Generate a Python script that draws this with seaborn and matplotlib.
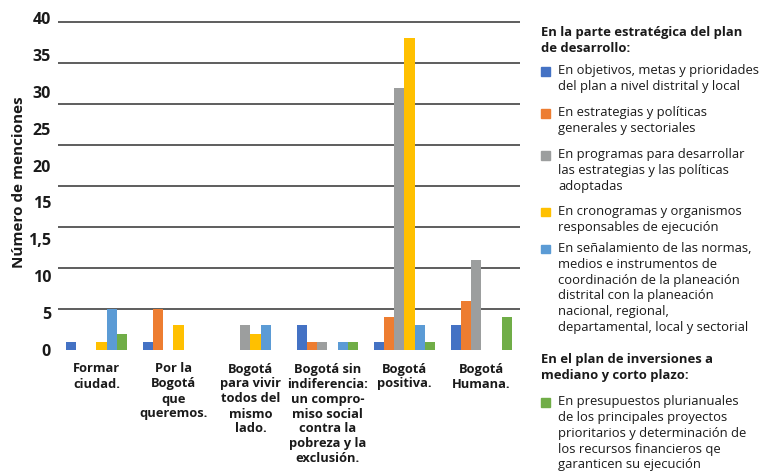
import matplotlib
matplotlib.use("Agg")
import matplotlib.pyplot as plt
import seaborn as sns
import pandas as pd
from matplotlib.patches import Rectangle
from matplotlib.ticker import FixedLocator, NullFormatter

# ---------------- data ----------------
categories = [
    "Formar\nciudad.",
    "Por la\nBogotá\nque\nqueremos.",
    "Bogotá\npara vivir\ntodos del\nmismo\nlado.",
    "Bogotá sin\nindiferencia:\nun compro-\nmiso social\ncontra la\npobreza y la\nexclusión.",
    "Bogotá\npositiva.",
    "Bogotá\nHumana.",
]
series_labels = [
    "En objetivos, metas y prioridades\ndel plan a nivel distrital y local",
    "En estrategias y políticas\ngenerales y sectoriales",
    "En programas para desarrollar\nlas estrategias y las políticas\nadoptadas",
    "En cronogramas y organismos\nresponsables de ejecución",
    "En señalamiento de las normas,\nmedios e instrumentos de\ncoordinación de la planeación\ndistrital con la planeación\nnacional, regional,\ndepartamental, local y sectorial",
    "En presupuestos plurianuales\nde los principales proyectos\nprioritarios y determinación de\nlos recursos financieros qe\ngaranticen su ejecución",
]
objetivos = [1, 1, 0, 3, 1, 3]
estrategias = [0, 5, 0, 1, 4, 6]
programas = [0, 0, 3, 1, 32, 11]
cronogramas = [1, 3, 2, 0, 38, 0]
normas = [5, 0, 3, 1, 3, 0]
presupuestos = [2, 0, 0, 1, 1, 4]
series_values = [objetivos, estrategias, programas, cronogramas, normas, presupuestos]

ytick_labels = ["0", "5", "10", "1,5", "15", "20", "25", "30", "35", "40"]
grid_values = [0, 5, 10, 15, 20, 25, 30, 35, 40]
legend_header_1 = "En la parte estratégica del plan\nde desarrollo:"
legend_header_2 = "En el plan de inversiones a\nmediano y corto plazo:"
y_title = "Número de menciones"

colors = ["#4472C4", "#ED7D31", "#9C9E9E", "#FFC000", "#5B9BD5", "#70AD47"]

# ---------------- frame ----------------
rows = []
for lab, vals in zip(series_labels, series_values):
    for c, v in zip(categories, vals):
        rows.append({"cat": c, "serie": lab, "valor": v})
df = pd.DataFrame(rows)

sns.set_theme(style="white")
plt.rcParams["font.family"] = ["Open Sans", "DejaVu Sans"]

W, H = 765, 474
fig = plt.figure(figsize=(W / 100, H / 100), dpi=100)
ax_left, ax_right, ax_top, ax_bottom = 58, 520, 13.8, 350
ax = fig.add_axes([ax_left / W, 1 - ax_bottom / H, (ax_right - ax_left) / W, (ax_bottom - ax_top) / H])

sns.barplot(data=df, x="cat", y="valor", hue="serie", order=categories,
            hue_order=series_labels, palette=colors, saturation=1, width=0.8,
            linewidth=0, errorbar=None, ax=ax, legend=False)

ax.set_xlim(-0.5, len(categories) - 0.5)
ax.set_ylim(0, 41)

# gridlines (minor ticks) and uneven tick labels (major ticks) as in the source
ax.yaxis.set_minor_locator(FixedLocator(grid_values))
ax.yaxis.set_minor_formatter(NullFormatter())
label_pos = [i * 4.5 for i in range(len(ytick_labels))]
ax.set_yticks(label_pos)
ax.set_yticklabels(ytick_labels, fontsize=11.5, fontweight="bold", color="#1a1a1a")
ax.grid(False, which="major")
ax.grid(True, which="minor", axis="y", color="#505050", linewidth=1.3)
ax.set_axisbelow(True)
ax.tick_params(axis="y", which="both", length=0, pad=5)
ax.tick_params(axis="x", length=0, pad=9)
for lbl in ax.get_xticklabels():
    lbl.set_fontsize(9.3)
    lbl.set_fontweight("bold")
    lbl.set_color("#1a1a1a")
    lbl.set_linespacing(1.2)
for s in ax.spines.values():
    s.set_visible(False)
ax.set_xlabel("")
ax.set_ylabel(y_title, fontsize=11, fontweight="bold", color="#1a1a1a")
ax.yaxis.set_label_coords(-0.07, 0.5)

# ---------------- legend (manual, with two headers) ----------------
def ftext(x, y, s, **kw):
    fig.text(x / W, 1 - y / H, s, va="center", ha="left", fontsize=9.4,
             color="#1a1a1a", linespacing=1.28, **kw)

def block_center(first_center, n_lines, pitch=15.6):
    return first_center + (n_lines - 1) * pitch / 2

ftext(541, block_center(33, 2), legend_header_1, fontweight="bold")
first_centers = [71, 113, 155, 212, 249, 402]
for lab, col, yc in zip(series_labels, colors, first_centers):
    n = lab.count("\n") + 1
    ftext(558, block_center(yc, n), lab)
    fig.patches.append(Rectangle((541 / W, 1 - (yc + 4.5) / H), 8.5 / W, 8.5 / H,
                                 transform=fig.transFigure, color=col, figure=fig))
ftext(541, block_center(360, 2), legend_header_2, fontweight="bold")

fig.savefig("out.png", dpi=100)
